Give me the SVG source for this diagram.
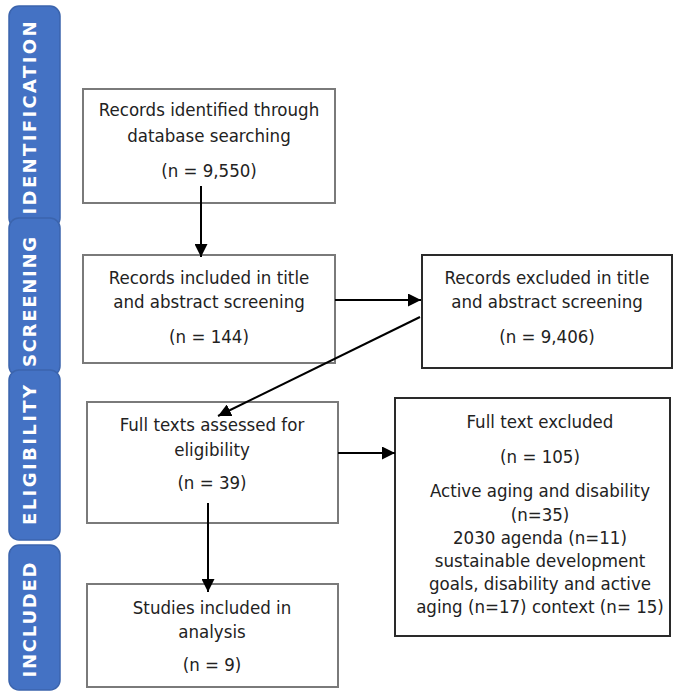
<svg xmlns="http://www.w3.org/2000/svg" width="674" height="692" viewBox="0 0 674 692">
<defs>
<style>
.bar{fill:#4472C4;stroke:#3B64AD;stroke-width:1.5}
.side{font-family:"DejaVu Sans",Verdana,sans-serif;font-weight:bold;font-size:18px;fill:#fff;text-anchor:middle}
.box{fill:#fff;stroke:#7a7a7a;stroke-width:2}
.box.dark{stroke:#2a2a2a}
.t{font-family:"DejaVu Sans Condensed","DejaVu Sans",Tahoma,sans-serif;font-size:18.5px;fill:#222;text-anchor:middle}
.c{stroke:#000;stroke-width:2;fill:none}
</style>
<marker id="ah" markerWidth="13" markerHeight="13" refX="10" refY="5" orient="auto" markerUnits="userSpaceOnUse" viewBox="0 0 10 10">
<path d="M0,0 L10,5 L0,10 z" fill="#000"/>
</marker>
</defs>
<rect width="674" height="692" fill="#fff"/>
<g id="phase-identification"><rect class="bar" x="9" y="6" width="51" height="222" rx="10"/><text class="side" transform="translate(36,118) rotate(-90)" textLength="193" lengthAdjust="spacing">IDENTIFICATION</text></g>
<g id="phase-screening"><rect class="bar" x="9" y="218" width="51" height="158" rx="10"/><text class="side" transform="translate(36,302) rotate(-90)" textLength="130" lengthAdjust="spacing">SCREENING</text></g>
<g id="phase-eligibility"><rect class="bar" x="9" y="370" width="51" height="170" rx="10"/><text class="side" transform="translate(36,455) rotate(-90)" textLength="140" lengthAdjust="spacing">ELIGIBILITY</text></g>
<g id="phase-included"><rect class="bar" x="9" y="545" width="51" height="145" rx="10"/><text class="side" transform="translate(36,620) rotate(-90)" textLength="115" lengthAdjust="spacing">INCLUDED</text></g>

<g id="identified"><rect class="box" x="83" y="89" width="252" height="114"/>
<text class="t" x="209" y="116">Records identified through</text>
<text class="t" x="209" y="142">database searching</text>
<text class="t" x="209" y="177">(n = 9,550)</text></g>

<g id="screened"><rect class="box" x="83" y="255" width="252" height="108"/>
<text class="t" x="209" y="284">Records included in title</text>
<text class="t" x="209" y="308">and abstract screening</text>
<text class="t" x="209" y="343">(n = 144)</text></g>

<g id="excluded-screening"><rect class="box dark" x="422" y="255" width="250" height="113"/>
<text class="t" x="547" y="284">Records excluded in title</text>
<text class="t" x="547" y="308">and abstract screening</text>
<text class="t" x="547" y="343">(n = 9,406)</text></g>

<g id="fulltext"><rect class="box" x="87" y="402" width="251" height="121"/>
<text class="t" x="212" y="431">Full texts assessed for</text>
<text class="t" x="212" y="456">eligibility</text>
<text class="t" x="212" y="489">(n = 39)</text></g>

<g id="excluded-fulltext"><rect class="box dark" x="395" y="398" width="275" height="238"/>
<text class="t" x="540" y="428">Full text excluded</text>
<text class="t" x="540" y="463">(n = 105)</text>
<text class="t" x="540" y="497">Active aging and disability</text>
<text class="t" x="540" y="521">(n=35)</text>
<text class="t" x="540" y="544">2030 agenda (n=11)</text>
<text class="t" x="540" y="567">sustainable development</text>
<text class="t" x="540" y="590">goals, disability and active</text>
<text class="t" x="540" y="613">aging (n=17) context (n= 15)</text></g>

<g id="included"><rect class="box" x="87" y="584" width="251" height="103"/>
<text class="t" x="212" y="614">Studies included in</text>
<text class="t" x="212" y="638">analysis</text>
<text class="t" x="212" y="671">(n = 9)</text></g>

<g id="connectors">
<line class="c" x1="201" y1="186" x2="201" y2="257" marker-end="url(#ah)"/>
<line class="c" x1="335" y1="300" x2="421" y2="300" marker-end="url(#ah)"/>
<line class="c" x1="420" y1="317" x2="218" y2="416" marker-end="url(#ah)"/>
<line class="c" x1="338" y1="453" x2="395" y2="453" marker-end="url(#ah)"/>
<line class="c" x1="208" y1="503" x2="208" y2="592" marker-end="url(#ah)"/>
</g>
</svg>
